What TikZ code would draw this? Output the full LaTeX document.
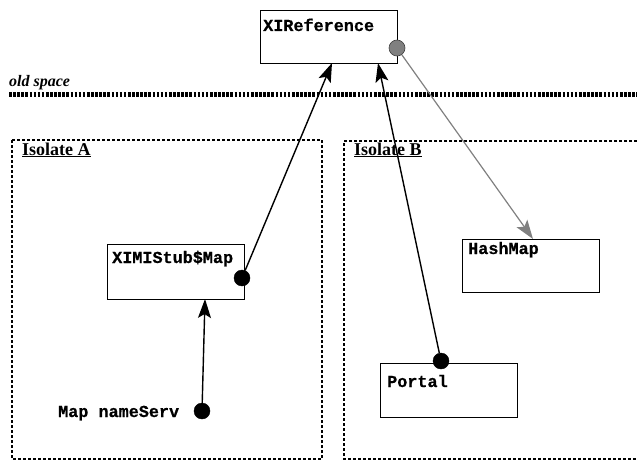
\documentclass[tikz,border=0pt]{standalone}
\usepackage{fontspec}
\setmainfont{Liberation Serif}
\newfontfamily\codefont[BoldFeatures={FakeBold=0.6}]{Liberation Mono}
\usetikzlibrary{arrows.meta}
\tikzset{
  objbox/.style={draw, line width=1.4pt, rectangle, anchor=north west, inner sep=0pt},
  code/.style={anchor=base west, inner sep=0pt, font=\codefont\bfseries\fontsize{16.8}{18}\selectfont},
  isolate/.style={draw, line width=1.2pt, dash pattern=on 3pt off 2pt},
  isolabel/.style={anchor=base west, inner sep=0pt, font=\bfseries\fontsize{18}{20}\selectfont},
  refdot/.style={circle, fill=black, draw=black, minimum size=16pt, inner sep=0pt},
  greydot/.style={circle, fill=black!50, draw=black!75, line width=0.6pt, minimum size=16pt, inner sep=0pt},
  ref/.style={line width=1.4pt, -{Stealth[length=19pt, width=13pt, inset=4pt]}},
  greyref/.style={line width=1.2pt, draw=black!50, -{Stealth[length=19pt, width=13pt, inset=4pt]}},
}
\begin{document}
\begin{tikzpicture}[x=1pt, y=-1pt]
\useasboundingbox (0,0) rectangle (637,460);
% old space
\node[anchor=base west, inner sep=0pt, font=\bfseries\itshape\fontsize{16}{18}\selectfont] (oldspace) at (9,86) {old space};
\draw[line width=5pt, dash pattern=on 2.6pt off 1.5pt] (9,94.5) -- (637,94.5);
% isolates
\draw[isolate] (12,140) rectangle (322,459);
\draw[isolate] (637,141) -- (344,141) -- (344,459) -- (637,459);
\node[isolabel] (isoA) at (22,155) {\underline{Isolate A}};
\node[isolabel] (isoB) at (354,155) {\underline{Isolate B}};
% boxes
\node[objbox, minimum width=137pt, minimum height=53pt] (xiref) at (260,10) {};
\node[code] (xireft) at (263,31) {XIReference};
\node[objbox, minimum width=137pt, minimum height=55pt] (stub) at (107,244) {};
\node[code] (stubt) at (112,263) {XIMIStub\$Map};
\node[objbox, minimum width=137pt, minimum height=53pt] (hash) at (462,239) {};
\node[code] (hasht) at (468,254) {HashMap};
\node[objbox, minimum width=137pt, minimum height=54pt] (portal) at (380,363) {};
\node[code] (portalt) at (387,387) {Portal};
\node[code] (mapt) at (58,417) {Map nameServ};
% dots
\node[greydot] (gdot) at (397,48) {};
\node[refdot] (sdot) at (242,278) {};
\node[refdot] (pdot) at (441,361) {};
\node[refdot] (mdot) at (202,411) {};
% targets
\coordinate (xa) at (332,63);
\coordinate (xb) at (378,63);
\coordinate (sa) at (205,299);
\coordinate (ha) at (533,239);
% connectors
\draw[ref] (sdot) -- (xa);
\draw[ref] (pdot) -- (xb);
\draw[ref] (mdot) -- (sa);
\draw[greyref] (gdot) -- (ha);
\end{tikzpicture}
\end{document}
